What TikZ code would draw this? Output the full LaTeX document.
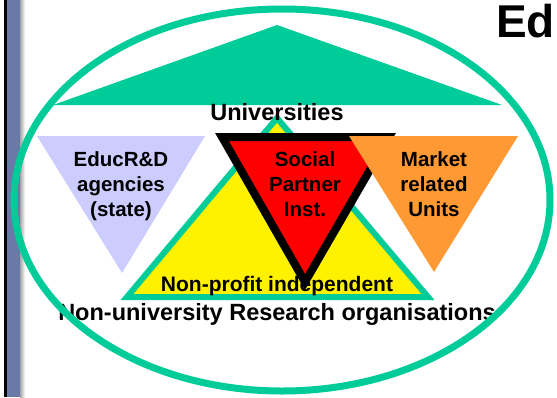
\documentclass[tikz,border=0pt]{standalone}
\usepackage{fontspec}
\setmainfont{Liberation Sans}
\usetikzlibrary{positioning,calc}
\definecolor{verdeacqua}{HTML}{00CC99}
\definecolor{lilla}{HTML}{CCCCFF}
\definecolor{arancio}{HTML}{FF9933}
\definecolor{barra}{HTML}{6A7AA8}
\tikzstyle{scritta} = [font=\fontsize{20.5}{25}\selectfont\bfseries, align=center, inner sep=0pt, anchor=base]
\tikzstyle{grande} = [font=\fontsize{23.5}{28}\selectfont\bfseries, inner sep=0pt, anchor=base]
\tikzstyle{piccola} = [font=\fontsize{21}{25}\selectfont\bfseries, inner sep=0pt, anchor=base]
\tikzstyle{titolo} = [font=\fontsize{46}{50}\selectfont\bfseries, inner sep=0pt, anchor=base west]

\begin{document}
\begin{tikzpicture}[x=1pt,y=-1pt]
	\useasboundingbox (0,0) rectangle (557,397);
	\clip (0,0) rectangle (557,397);
	\fill[white] (0,0) rectangle (557,397);
	\fill[black] (4,0) rectangle (7,397);
	\fill[barra] (7,0) rectangle (20,397);
	\shade[left color=gray!70, right color=white] (20,0) rectangle (25,397);
	\fill[verdeacqua] (53,105) -- (277,25) -- (502,105) -- cycle;
	\filldraw[fill=yellow, draw=verdeacqua, line width=6pt] (127,297) -- (277,118) -- (428,297) -- cycle;
	\filldraw[fill=red, draw=black, line width=8pt] (222,137) -- (389,137) -- (305,282) -- cycle;
	\fill[arancio] (349,136) -- (518,136) -- (434,272) -- cycle;
	\fill[lilla] (37,136) -- (205,136) -- (122,273) -- cycle;
	\node (ed) at (496,37) [titolo] {Ed};
	\node (univ) at (277,120) [grande] {Universities};
	\node (agenzie) at (121,216) [scritta] {EducR\&D\\agencies\\(state)};
	\node (sociali) at (305,216) [scritta] {Social\\Partner\\Inst.};
	\node (mercato) at (434,216) [scritta] {Market\\related\\Units};
	\node (nonprofit) at (277,291) [piccola] {Non-profit independent};
	\node (ricerca) at (277,320) [grande] {Non-university Research organisations};
	\draw[verdeacqua, line width=7pt] (282,200) ellipse [x radius=268, y radius=191];
\end{tikzpicture}
\end{document}
